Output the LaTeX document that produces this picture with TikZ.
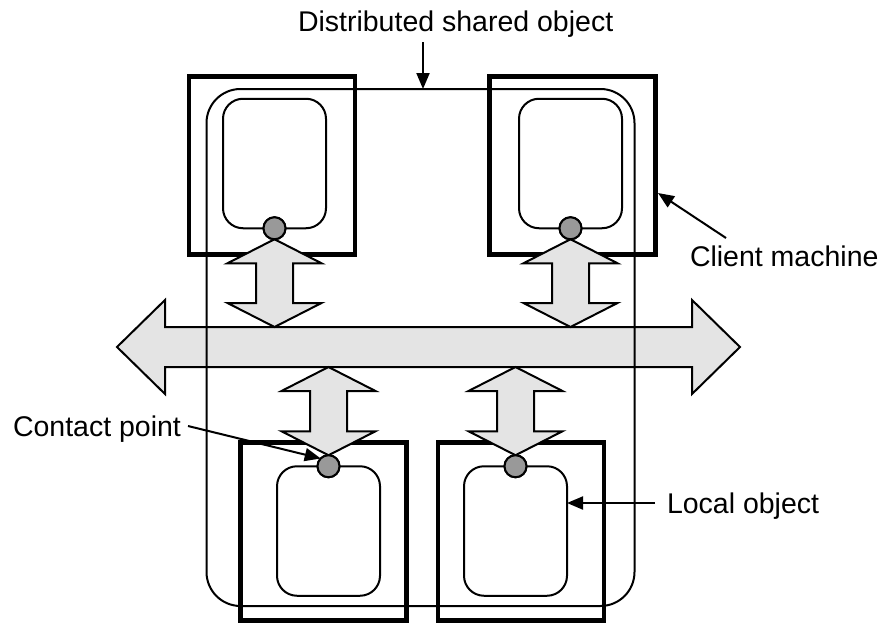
\documentclass[tikz,border=0pt]{standalone}
\usepackage{fontspec}
\setmainfont{Liberation Sans}
\usetikzlibrary{arrows.meta,calc}

\definecolor{pipefill}{HTML}{E4E4E4}
\definecolor{dotfill}{HTML}{999999}

\tikzset{
  machine/.style={draw, line width=4.5pt, minimum width=166pt, minimum height=178pt,
    inner sep=0pt, outer sep=0pt},
  localobj/.style={draw, line width=2pt, rounded corners=20pt, minimum width=103pt,
    minimum height=129.5pt, inner sep=0pt, outer sep=0pt},
  shared/.style={draw, line width=2pt, rounded corners=34pt, minimum width=428pt,
    minimum height=517pt, inner sep=0pt, outer sep=0pt},
  contact/.style={circle, draw, line width=2pt, fill=dotfill, minimum size=22pt,
    inner sep=0pt, outer sep=0pt},
  pipe/.style={draw, line width=2pt, fill=pipefill, line join=miter},
  lbl/.style={inner sep=0pt, outer sep=0pt, font=\fontsize{28.5}{32}\selectfont},
  note/.style={line width=2pt, -{Triangle[length=16pt,width=13pt]}},
}

% vertical two-headed block arrow between two tip points (#1 upper, #2 lower)
\newcommand{\vpipe}[2]{%
  \path[pipe] let \p1=#1, \p2=#2 in
    (\x1,\y1) -- (\x1+47pt,\y1-24pt) -- (\x1+18.5pt,\y1-24pt) -- (\x1+18.5pt,\y2+24pt)
    -- (\x1+47pt,\y2+24pt) -- (\x1,\y2) -- (\x1-47pt,\y2+24pt) -- (\x1-18.5pt,\y2+24pt)
    -- (\x1-18.5pt,\y1-24pt) -- (\x1-47pt,\y1-24pt) -- cycle;}

\begin{document}
\begin{tikzpicture}[x=1pt,y=-1pt]
\useasboundingbox (0,0) rectangle (881,624);

% client machines
\node[machine] (cmA) at (272,165.5) {};
\node[machine] (cmB) at (572.5,165.5) {};
\node[machine] (cmC) at (323.5,531.5) {};
\node[machine] (cmD) at (521,531.5) {};

% local objects
\node[localobj] (loA) at (274.5,163.5) {};
\node[localobj] (loB) at (570.5,163.5) {};
\node[localobj] (loC) at (328.5,531) {};
\node[localobj] (loD) at (515.5,531) {};

% network bus
\coordinate (busW) at (117,347);
\coordinate (busE) at (740,347);
\path[pipe] let \p1=(busW), \p2=(busE) in
  (\x1,\y1) -- (\x1+48pt,\y1+47pt) -- (\x1+48pt,\y1+20pt) -- (\x2-48pt,\y1+20pt)
  -- (\x2-48pt,\y1+47pt) -- (\x2,\y1) -- (\x2-48pt,\y1-47pt) -- (\x2-48pt,\y1-20pt)
  -- (\x1+48pt,\y1-20pt) -- (\x1+48pt,\y1-47pt) -- cycle;
\coordinate (busN) at (420,327);
\coordinate (busS) at (420,367);

% distributed shared object
\node[shared] (dso) at (420.5,347.5) {};

% contact points
\node[contact] (cpA) at (loA.south) {};
\node[contact] (cpB) at (loB.south) {};
\node[contact] (cpC) at (loC.north) {};
\node[contact] (cpD) at (loD.north) {};

% links between contact points and the bus
\vpipe{(cpA.south)}{(cpA.south |- busN)}
\vpipe{(cpB.south)}{(cpB.south |- busN)}
\vpipe{(cpC.north |- busS)}{(cpC.north)}
\vpipe{(cpD.north |- busS)}{(cpD.north)}
\node[contact] at (cpA) {};
\node[contact] at (cpB) {};
\node[contact] at (cpC) {};
\node[contact] at (cpD) {};

% labels
\node[lbl, anchor=base west] (dsoLbl) at (298,31) {Distributed shared object};
\node[lbl, anchor=base west] (cmLbl) at (690,266) {Client machine};
\node[lbl, anchor=base west] (loLbl) at (667,513) {Local object};
\node[lbl, anchor=base west] (cpLbl) at (13,436) {Contact point};

\coordinate (dsoTail) at (423,42);
\coordinate (cmTail) at (726,238);
\coordinate (cmHit) at (658,193);
\coordinate (loTail) at (655,503);
\coordinate (cpTail) at (188,426);

\draw[note] (dsoTail) -- (dsoTail |- dso.north);
\draw[note] (cmTail) -- (cmHit);
\draw[note] (loTail) -- (loTail -| loD.east);
\draw[note] (cpTail) -- (cpC.north west);
\end{tikzpicture}
\end{document}
